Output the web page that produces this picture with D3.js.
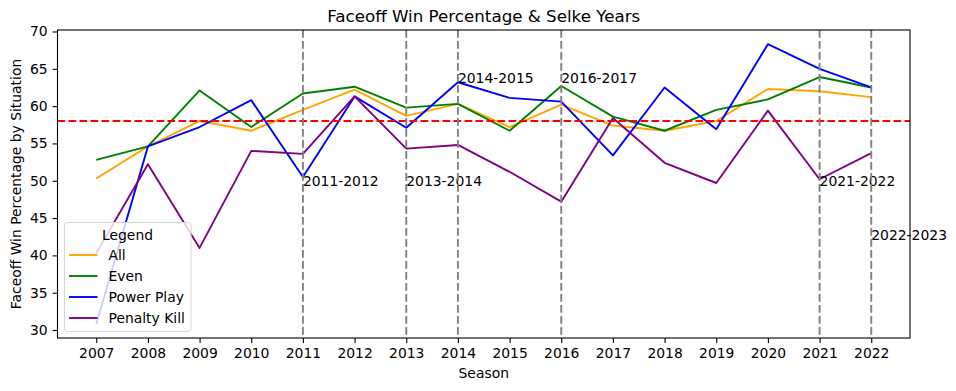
<!DOCTYPE html>
<meta charset="utf-8">
<script src="https://d3js.org/d3.v7.min.js"></script>
<style>
  body { margin: 0; background: #fff; }
  text { font-family: 'DejaVu Sans', sans-serif; fill: #000; }
</style>
<body>
<div id="chart"></div>
<script>

// seasons and values per situation
var seasons = [2007, 2008, 2009, 2010, 2011, 2012, 2013, 2014, 2015, 2016, 2017, 2018, 2019, 2020, 2021, 2022];
var allVals     = [50.3, 54.6, 58.0, 56.7, 59.5, 62.2, 58.7, 60.3, 57.2, 60.2, 57.4, 56.7, 58.0, 62.3, 62.0, 61.2];
var evenVals    = [52.8, 54.6, 62.1, 57.2, 61.7, 62.6, 59.8, 60.3, 56.7, 62.7, 58.6, 56.7, 59.5, 60.9, 63.9, 62.5];
var ppVals      = [30.8, 54.6, 57.2, 60.8, 50.5, 61.3, 57.1, 63.2, 61.1, 60.6, 53.4, 62.5, 56.9, 68.3, 65.0, 62.5];
var pkVals      = [40.3, 52.2, 41.0, 54.0, 53.6, 61.3, 54.3, 54.8, 51.2, 47.2, 58.4, 52.4, 49.7, 59.4, 50.2, 53.7];

var seriesNames = ["All", "Even", "Power Play", "Penalty Kill"];
var seriesColors = ["orange", "green", "blue", "purple"];

// Selke years
var selkeYears  = [2011, 2013, 2014, 2016, 2021, 2022];
var selkeLabels = ["2011-2012", "2013-2014", "2014-2015", "2016-2017", "2021-2022", "2022-2023"];
var selkeLabelY = [49.3, 49.3, 63.1, 63.1, 49.3, 42.1];

var avgLine = 58;
var yTicks = [30, 35, 40, 45, 50, 55, 60, 65, 70];

var margin = {top: 30, right: 46, bottom: 53, left: 57.5},
    width = 956 - margin.left - margin.right,
    height = 391 - margin.top - margin.bottom;

var svg = d3.select("#chart")
  .append("svg")
    .attr("width", 956)
    .attr("height", 391)
  .append("g")
    .attr("transform", "translate(" + margin.left + "," + margin.top + ")");

var x = d3.scaleLinear().domain([2006.25, 2022.75]).range([0, width]);
var y = d3.scaleLinear().domain([28.93, 70.2]).range([height, 0]);

// series lines
var line = d3.line()
  .x(function(d, i) { return x(seasons[i]); })
  .y(function(d) { return y(d); });

var series = [allVals, evenVals, ppVals, pkVals];
series.forEach(function(vals, k) {
  svg.append("path")
    .datum(vals)
    .attr("fill", "none")
    .attr("stroke", seriesColors[k])
    .attr("stroke-width", 1.9)
    .attr("stroke-linejoin", "round")
    .attr("d", line);
});

// red average line
svg.append("line")
  .attr("x1", 0).attr("x2", width)
  .attr("y1", y(avgLine)).attr("y2", y(avgLine))
  .attr("stroke", "red")
  .attr("stroke-width", 1.9)
  .attr("stroke-dasharray", "7.7,3.3");

// Selke year lines + labels
selkeYears.forEach(function(yr, i) {
  svg.append("line")
    .attr("x1", x(yr)).attr("x2", x(yr))
    .attr("y1", 0).attr("y2", height)
    .attr("stroke", "gray")
    .attr("stroke-width", 1.9)
    .attr("stroke-dasharray", "7.7,3.3");
  svg.append("text")
    .attr("x", x(yr))
    .attr("y", y(selkeLabelY[i]))
    .style("font-size", "13.9px")
    .text(selkeLabels[i]);
});

// axes
var xAxis = svg.append("g")
  .attr("transform", "translate(0," + height + ")")
  .call(d3.axisBottom(x).tickValues(seasons).tickFormat(d3.format("d")).tickSizeInner(4.9).tickSizeOuter(0).tickPadding(4.9));
var yAxis = svg.append("g")
  .call(d3.axisLeft(y).tickValues(yTicks).tickSizeInner(4.9).tickSizeOuter(0).tickPadding(4.9));
[xAxis, yAxis].forEach(function(a) {
  a.select(".domain").remove();
  a.selectAll("line").attr("stroke", "#000").attr("stroke-width", 1.1);
  a.selectAll("text").style("font-size", "13.9px").style("font-family", "'DejaVu Sans', sans-serif");
});

// frame
svg.append("rect")
  .attr("x", 0).attr("y", 0)
  .attr("width", width).attr("height", height)
  .attr("fill", "none")
  .attr("stroke", "#000")
  .attr("stroke-width", 1.1);

// labels
svg.append("text")
  .attr("x", width / 2).attr("y", -8)
  .attr("text-anchor", "middle")
  .style("font-size", "16.7px")
  .text("Faceoff Win Percentage & Selke Years");

svg.append("text")
  .attr("x", width / 2).attr("y", height + 40)
  .attr("text-anchor", "middle")
  .style("font-size", "13.9px")
  .text("Season");

svg.append("text")
  .attr("transform", "rotate(-90)")
  .attr("x", -height / 2).attr("y", -37)
  .attr("text-anchor", "middle")
  .style("font-size", "13.9px")
  .text("Faceoff Win Percentage by Situation");

// legend
var lg = svg.append("g").attr("transform", "translate(7,192.5)");
lg.append("rect")
  .attr("width", 126.5).attr("height", 109)
  .attr("rx", 3)
  .attr("fill", "white").attr("fill-opacity", 0.8)
  .attr("stroke", "#d5d5d5").attr("stroke-width", 1);
lg.append("text")
  .attr("x", 63).attr("y", 17)
  .attr("text-anchor", "middle")
  .style("font-size", "13.9px")
  .text("Legend");
seriesNames.forEach(function(name, i) {
  var ly = 32.5 + i * 21;
  lg.append("line")
    .attr("x1", 4.5).attr("x2", 33)
    .attr("y1", ly).attr("y2", ly)
    .attr("stroke", seriesColors[i])
    .attr("stroke-width", 1.9);
  lg.append("text")
    .attr("x", 44).attr("y", ly + 5)
    .style("font-size", "13.9px")
    .text(name);
});

</script>
</body>
